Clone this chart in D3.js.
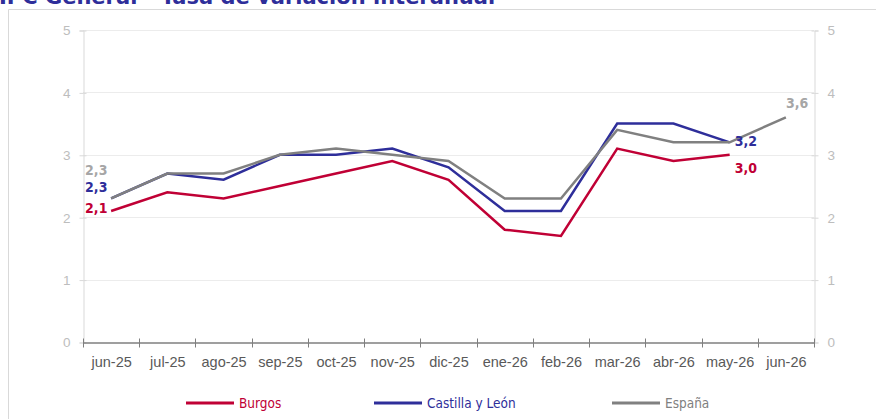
<!DOCTYPE html>
<html>
<head>
<meta charset="utf-8">
<script src="https://cdn.jsdelivr.net/npm/d3@7"></script>
<style>
  body { margin: 0; background: #fff; }
  svg { display: block; font-family: "DejaVu Sans Condensed", "Liberation Sans", sans-serif; }
</style>
</head>
<body>
<svg id="chart" width="876" height="419"></svg>
<script>
const months = ["jun-25","jul-25","ago-25","sep-25","oct-25","nov-25","dic-25","ene-26","feb-26","mar-26","abr-26","may-26","jun-26"];
const burgos = [2.1, 2.4, 2.3, 2.5, 2.7, 2.9, 2.6, 1.8, 1.7, 3.1, 2.9, 3.0];
const castilla = [2.3, 2.7, 2.6, 3.0, 3.0, 3.1, 2.8, 2.1, 2.1, 3.5, 3.5, 3.2];
const espana = [2.3, 2.7, 2.7, 3.0, 3.1, 3.0, 2.9, 2.3, 2.3, 3.4, 3.2, 3.2, 3.6];
const yTicks = [0, 1, 2, 3, 4, 5];

const series = [
    {name: "Burgos", values: burgos, color: "#c00035"},
    {name: "Castilla y León", values: castilla, color: "#2e2e9a"},
    {name: "España", values: espana, color: "#808080"}
];

const svg = d3.select("#chart");
const margin = {top: 30, left: 83, right: 62, bottom: 77};
const width = 876, height = 419;

// title (cut off at the top like the source)
svg.append("text")
    .attr("x", -1).attr("y", 4)
    .attr("font-family", "DejaVu Sans")
    .attr("font-weight", "bold")
    .attr("font-size", 21)
    .attr("fill", "#2e2e9a")
    .text("IPC General - Tasa de variación interanual");

// frame
svg.append("path")
    .attr("d", "M8.5,419 V9.5 H876")
    .attr("fill", "none")
    .attr("stroke", "#d9d9d9");

const x = d3.scaleBand().domain(months).range([margin.left, width - margin.right]);
const y = d3.scaleLinear().domain([0, 5]).range([height - margin.bottom, margin.top]);

// grid
svg.append("g").selectAll("line")
    .data(yTicks.filter(t => t > 0))
    .join("line")
    .attr("x1", margin.left).attr("x2", width - margin.right)
    .attr("y1", d => Math.round(y(d)) + 0.5).attr("y2", d => Math.round(y(d)) + 0.5)
    .attr("stroke", "#ececec");

// y axes
const yLeft = svg.append("g")
    .attr("transform", `translate(${margin.left + 0.5},0.5)`)
    .call(d3.axisLeft(y).tickValues(yTicks).tickSize(4).tickPadding(9).tickFormat(d3.format("d")));
const yRight = svg.append("g")
    .attr("transform", `translate(${width - margin.right + 0.5},0.5)`)
    .call(d3.axisRight(y).tickValues(yTicks).tickSize(4).tickPadding(9).tickFormat(d3.format("d")));
[yLeft, yRight].forEach(g => {
    g.select(".domain").attr("stroke", "#d9d9d9");
    g.selectAll(".tick line").attr("stroke", "#d9d9d9").clone().attr("x2", 0).attr("x1", g === yLeft ? 3 : -3);
    g.selectAll(".tick text").attr("fill", "#bdbdbd").attr("font-size", 13.5);
});

// x axis
const xAxis = svg.append("g")
    .attr("transform", `translate(0.5,${y(0) + 0.5})`)
    .call(d3.axisBottom(x).tickSize(0).tickPadding(14));
xAxis.select(".domain").attr("stroke", "#7f7f7f").attr("stroke-width", 1.5);
xAxis.selectAll(".tick text").attr("fill", "#595959").attr("font-size", 14.5);
const bounds = months.map(m => x(m)).concat([x.range()[1]]);
xAxis.append("g").selectAll("line")
    .data(bounds)
    .join("line")
    .attr("x1", d => Math.round(d)).attr("x2", d => Math.round(d))
    .attr("y1", -4).attr("y2", 5)
    .attr("stroke", "#7f7f7f");

// lines
const cx = i => x(months[i]) + x.bandwidth() / 2;
const line = d3.line().x((d, i) => cx(i)).y(d => y(d));
svg.append("g").selectAll("path")
    .data(series)
    .join("path")
    .attr("d", s => line(s.values))
    .attr("fill", "none")
    .attr("stroke", s => s.color)
    .attr("stroke-width", 2.5)
    .attr("stroke-linejoin", "miter");

// value labels
const fmt = v => d3.format(".1f")(v).replace(".", ",");
const labels = [
    {s: series[2], i: 0, dx: -26, dy: -23},
    {s: series[1], i: 0, dx: -26, dy: -6},
    {s: series[0], i: 0, dx: -26, dy: 2},
    {s: series[2], i: 12, dx: 0, dy: -9},
    {s: series[1], i: 11, dx: 5, dy: 4},
    {s: series[0], i: 11, dx: 5, dy: 18}
];
svg.append("g").selectAll("text")
    .data(labels)
    .join("text")
    .attr("x", d => cx(d.i) + d.dx)
    .attr("y", d => y(d.s.values[d.i]) + d.dy)
    .attr("font-weight", "bold")
    .attr("font-size", 14)
    .attr("fill", d => d.s.color === "#808080" ? "#a6a6a6" : d.s.color)
    .text(d => fmt(d.s.values[d.i]));

// legend
const legendX = [186, 374, 612];
const legend = svg.append("g").selectAll("g")
    .data(series)
    .join("g")
    .attr("transform", (d, i) => `translate(${legendX[i]},403)`);
legend.append("line")
    .attr("x1", 0).attr("x2", 48)
    .attr("stroke", d => d.color)
    .attr("stroke-width", 3);
legend.append("text")
    .attr("x", 53).attr("y", 5)
    .attr("font-size", 13.5)
    .attr("fill", d => d.color)
    .text(d => d.name);
</script>
</body>
</html>
